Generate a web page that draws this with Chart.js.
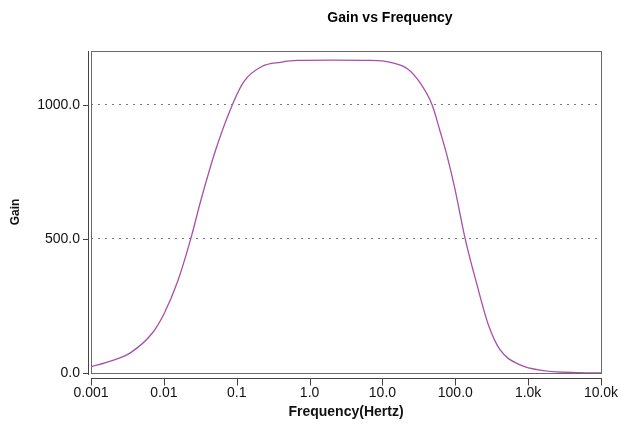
<!DOCTYPE html>
<html>
<head>
<meta charset="utf-8">
<script src="https://cdn.jsdelivr.net/npm/chart.js@4.4.1/dist/chart.umd.min.js"></script>
<style>
  html, body { margin: 0; padding: 0; background: #ffffff; }
  #wrap { width: 620px; height: 428px; }
</style>
</head>
<body>
<div id="wrap"><canvas id="c" width="620" height="428"></canvas></div>
<script>
// ---- data ----
const freqs = [0.001, 0.0019, 0.0035, 0.0070, 0.0101, 0.0154, 0.0234, 0.0321, 0.0515, 0.0872, 0.126, 0.224, 0.40, 0.68, 2.0, 6.9, 12.9, 21.8, 33, 48, 62, 77, 100, 137, 198, 286, 413, 777, 1620, 5130, 10000];
const gains = [23, 45, 76, 150, 222, 340, 500, 642, 832, 1000, 1087, 1143, 1158, 1165, 1166, 1165, 1158, 1135, 1081, 1000, 900, 810, 680, 499, 330, 178, 86, 30, 9, 1, 0];
const xTickValues = [0.001, 0.01, 0.1, 1, 10, 100, 1000, 10000];
const xTickLabels = ['0.001', '0.01', '0.1', '1.0', '10.0', '100.0', '1.0k', '10.0k'];
const yTickValues = [0, 500, 1000];
const yTickLabels = ['0.0', '500.0', '1000.0'];
const chartTitle = 'Gain vs Frequency';
const xTitle = 'Frequency(Hertz)';
const yTitle = 'Gain';

const FONT = 'Liberation Sans, Arial, sans-serif';

const framePlugin = {
  id: 'frame',
  beforeDatasetsDraw(chart) {
    const { ctx, chartArea: a, scales } = chart;
    ctx.save();
    ctx.strokeStyle = '#6a6a6a';
    ctx.lineWidth = 1;
    ctx.strokeRect(a.left + 0.5, a.top + 0.5, a.right - a.left, a.bottom - a.top);
    // offset y axis line + ticks
    ctx.strokeStyle = '#444';
    ctx.beginPath();
    ctx.moveTo(a.left - 2.5, a.top);
    ctx.lineTo(a.left - 2.5, a.bottom + 2);
    yTickValues.forEach(v => {
      const y = Math.round(scales.y.getPixelForValue(v)) + 0.5;
      ctx.moveTo(a.left - 8, y);
      ctx.lineTo(a.left - 2.5, y);
    });
    // offset x axis line + ticks
    const xy = a.bottom + 5.5;
    ctx.moveTo(a.left, xy);
    ctx.lineTo(a.right + 1, xy);
    xTickValues.forEach(v => {
      const x = Math.round(scales.x.getPixelForValue(v)) + 0.5;
      ctx.moveTo(x, xy);
      ctx.lineTo(x, xy + 7);
    });
    ctx.stroke();
    ctx.restore();
  },
  afterDraw(chart) {
    const { ctx } = chart;
    ctx.save();
    ctx.fillStyle = '#000';
    ctx.font = 'bold 14px ' + FONT;
    ctx.textAlign = 'center';
    ctx.textBaseline = 'alphabetic';
    ctx.fillText(chartTitle, 390, 22);
    ctx.restore();
  }
};

new Chart(document.getElementById('c'), {
  type: 'line',
  data: {
    datasets: [{
      data: freqs.map((f, i) => ({ x: f, y: gains[i] })),
      borderColor: '#a84fa8',
      borderWidth: 1.3,
      pointRadius: 0,
      fill: false,
      cubicInterpolationMode: 'monotone'
    }]
  },
  options: {
    responsive: false,
    animation: false,
    layout: { padding: { top: 51, right: 19, bottom: 0, left: 0 } },
    plugins: { legend: { display: false }, tooltip: { enabled: false }, title: { display: false } },
    scales: {
      x: {
        type: 'logarithmic',
        min: 0.001,
        max: 10000,
        afterBuildTicks: s => { s.ticks = xTickValues.map(v => ({ value: v })); },
        afterFit: s => { s.height = 55; s.paddingLeft = 0; s.paddingRight = 0; },
        grid: { display: false, drawTicks: false },
        border: { display: false },
        ticks: {
          autoSkip: false, maxRotation: 0, padding: 12,
          color: '#111', font: { family: FONT, size: 14 },
          callback: (v, i) => xTickLabels[i]
        },
        title: {
          display: true, text: xTitle, color: '#111',
          font: { family: FONT, size: 14, weight: 'bold' },
          padding: { top: 0, bottom: 7 }
        }
      },
      y: {
        type: 'linear',
        min: 0,
        max: 1200,
        afterBuildTicks: s => { s.ticks = yTickValues.map(v => ({ value: v })); },
        afterFit: s => { s.width = 91; s.paddingTop = 0; s.paddingBottom = 0; },
        grid: {
          drawTicks: false,
          color: c => (c.tick && c.tick.value === 0) ? 'rgba(0,0,0,0)' : '#7a7a7a',
          lineWidth: 1
        },
        border: { display: false, dash: [2, 5] },
        ticks: {
          padding: 11, color: '#111', font: { family: FONT, size: 14 },
          callback: (v, i) => yTickLabels[i]
        },
        title: {
          display: true, text: yTitle, color: '#111',
          font: { family: FONT, size: 12, weight: 'bold' },
          padding: { top: 8, bottom: 0 }
        }
      }
    }
  },
  plugins: [framePlugin]
});
</script>
</body>
</html>
